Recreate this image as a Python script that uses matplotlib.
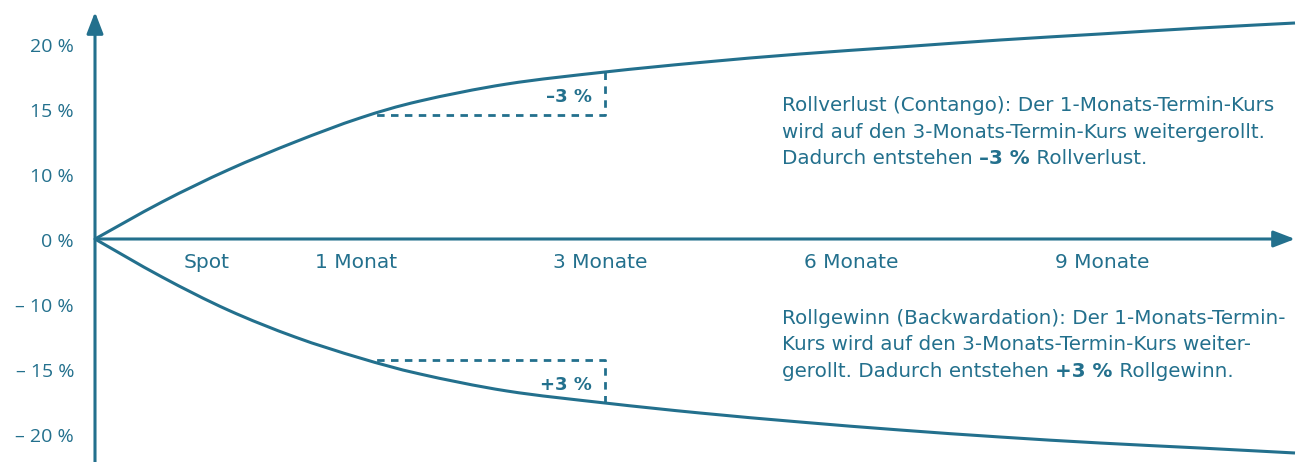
import matplotlib
matplotlib.use("Agg")
import matplotlib.pyplot as plt
from matplotlib.path import Path
from matplotlib.patches import PathPatch

# schematic chart: x in px from the origin, y in px above the time axis
c = "#23708d"
plt.rcParams['font.family'] = ['DejaVu Sans']

contango_x = [0, 67, 133, 200, 265, 325, 412, 510, 605, 705, 805, 905, 1005, 1105, 1200]
contango_y = [0, 37, 69, 97, 121, 138, 155, 167, 176.5, 185, 192, 199, 205, 211, 216]
backw_x = [0, 67, 133, 200, 265, 325, 412, 510, 605, 705, 805, 905, 1005, 1105, 1200]
backw_y = [0, -38, -71, -98, -119, -135, -152, -164, -174, -183, -191, -198, -204, -209, -214]

y_labels = ["20 %", "15 %", "10 %", "0 %", "\u2013 10 %", "\u2013 15 %", "\u2013 20 %"]
y_label_pos = [192, 127, 62, -3, -68, -133, -198]
x_labels = ["Spot", "1 Monat", "3 Monate", "6 Monate", "9 Monate"]
x_label_pos = [112, 261, 505, 756, 1007]

fig = plt.figure(figsize=(13.05, 4.62), dpi=100)
ax = fig.add_axes([0, 0, 1, 1])
ax.set_xlim(-95, 1210)
ax.set_ylim(-223, 239)
ax.axis('off')

arrow = dict(arrowstyle='-|>,head_length=1.3,head_width=0.5', lw=2.2, color=c,
             shrinkA=0, shrinkB=0, mutation_scale=10)
ax.annotate('', xy=(0, 227), xytext=(0, -223), arrowprops=arrow)
ax.annotate('', xy=(1200, 0), xytext=(0, 0), arrowprops=arrow)


def smooth_curve(xs, ys):
    # catmull-rom through the read points, drawn as cubic beziers
    pts = list(zip(xs, ys))
    verts = [pts[0]]
    codes = [Path.MOVETO]
    n = len(pts)
    for i in range(n - 1):
        p0 = pts[max(i - 1, 0)]
        p1 = pts[i]
        p2 = pts[i + 1]
        p3 = pts[min(i + 2, n - 1)]
        c1 = (p1[0] + (p2[0] - p0[0]) / 6, p1[1] + (p2[1] - p0[1]) / 6)
        c2 = (p2[0] - (p3[0] - p1[0]) / 6, p2[1] - (p3[1] - p1[1]) / 6)
        verts += [c1, c2, p2]
        codes += [Path.CURVE4] * 3
    ax.add_patch(PathPatch(Path(verts, codes), fill=False, edgecolor=c, lw=2.2))


smooth_curve(contango_x, contango_y)
smooth_curve(backw_x, backw_y)

# roll steps between 1 month and 3 months (start at the curve so the dash touches it)
dash = (0, (2.7, 2.3))
ax.plot([contango_x[7], contango_x[7], 277],
        [contango_y[7], 124, 124], color=c, lw=2.0, ls=dash)
ax.plot([backw_x[7], backw_x[7], 277],
        [backw_y[7], -121, -121], color=c, lw=2.0, ls=dash)
ax.text(497, 142, "\u20133 %", color=c, fontsize=13, fontweight='bold', ha='right', va='center')
ax.text(497, -146, "+3 %", color=c, fontsize=13, fontweight='bold', ha='right', va='center')

for lab, y in zip(y_labels, y_label_pos):
    ax.text(-21, y, lab, color=c, fontsize=14, family=['Open Sans', 'DejaVu Sans'],
            ha='right', va='center')
for lab, x in zip(x_labels, x_label_pos):
    ax.text(x, -24, lab, color=c, fontsize=14.5, ha='center', va='center')


def rich_line(x, y, parts):
    prev = None
    for s, bold in parts:
        w = 'bold' if bold else 'normal'
        if prev is None:
            prev = ax.text(x, y, s, color=c, fontsize=14.3, fontweight=w, ha='left', va='baseline')
        else:
            prev = ax.annotate(s, xy=(1, 0), xycoords=prev, color=c, fontsize=14.3,
                               fontweight=w, ha='left', va='bottom')


tx = 687
rich_line(tx, 128, [("Rollverlust (Contango): Der 1-Monats-Termin-Kurs", False)])
rich_line(tx, 101.5, [("wird auf den 3-Monats-Termin-Kurs weitergerollt.", False)])
rich_line(tx, 74.5, [("Dadurch entstehen ", False), ("\u20133 %", True), (" Rollverlust.", False)])
rich_line(tx, -85, [("Rollgewinn (Backwardation): Der 1-Monats-Termin-", False)])
rich_line(tx, -111.5, [("Kurs wird auf den 3-Monats-Termin-Kurs weiter-", False)])
rich_line(tx, -138, [("gerollt. Dadurch entstehen ", False), ("+3 %", True), (" Rollgewinn.", False)])

fig.savefig("out.png", dpi=100)
